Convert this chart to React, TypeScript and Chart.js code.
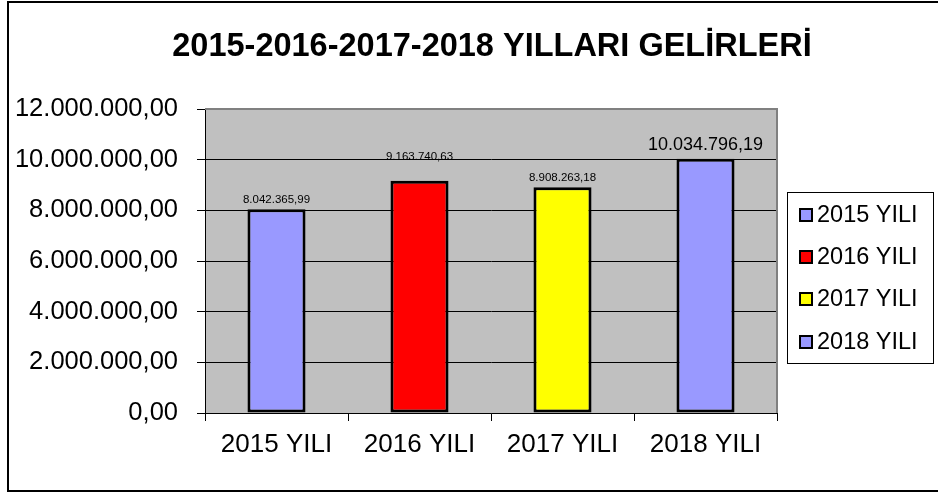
import React, { useEffect, useRef } from "react";
import { Chart, registerables } from "chart.js";

Chart.register(...registerables);

const TITLE = "2015-2016-2017-2018 YILLARI GELİRLERİ";
const categories = ["2015 YILI", "2016 YILI", "2017 YILI", "2018 YILI"];
const revenues = [8042365.99, 9163740.63, 8908263.18, 10034796.19];
const barColors = ["#9999FF", "#FF0000", "#FFFF00", "#9999FF"];
const yMin = 0;
const yMax = 12000000;
const yStep = 2000000;

const FONT = "'Liberation Sans', Arial, sans-serif";

function formatTR(v: number): string {
  const neg = v < 0;
  const fixed = Math.abs(v).toFixed(2);
  const [intPart, dec] = fixed.split(".");
  const grouped = intPart.replace(/\B(?=(\d{3})+(?!\d))/g, ".");
  return (neg ? "-" : "") + grouped + "," + dec;
}

// label styling per bar (font size, gap above bar top)
const labelStyle = [
  { size: 11.5, gap: 9 },
  { size: 11.5, gap: 24 },
  { size: 11.5, gap: 9.5 },
  { size: 18, gap: 14 },
];

const decorPlugin = {
  id: "decor",
  beforeDraw(chart: any) {
    const { ctx, chartArea } = chart;
    const { left, top, right, bottom } = chartArea;
    ctx.save();
    ctx.fillStyle = "#ffffff";
    ctx.fillRect(0, 0, chart.width, chart.height);
    ctx.fillStyle = "#C0C0C0";
    ctx.fillRect(left, top, right - left, bottom - top);
    ctx.restore();
  },
  afterDatasetsDraw(chart: any) {
    const { ctx } = chart;
    const meta = chart.getDatasetMeta(0);
    const data = chart.data.datasets[0].data as number[];
    ctx.save();
    ctx.fillStyle = "#000";
    ctx.textAlign = "center";
    ctx.textBaseline = "middle";
    meta.data.forEach((el: any, i: number) => {
      const st = labelStyle[i] || labelStyle[0];
      ctx.font = `${st.size}px ${FONT}`;
      ctx.fillText(formatTR(data[i]), el.x, el.y - st.gap);
    });
    ctx.restore();
  },
  afterDraw(chart: any) {
    const { ctx, chartArea } = chart;
    const { left, top, right, bottom } = chartArea;
    ctx.save();
    // plot area border (top/right)
    ctx.strokeStyle = "#808080";
    ctx.lineWidth = 2;
    ctx.beginPath();
    ctx.moveTo(left, top);
    ctx.lineTo(right, top);
    ctx.lineTo(right, bottom);
    ctx.stroke();

    // outer chart border
    ctx.strokeStyle = "#000";
    ctx.lineWidth = 2;
    ctx.strokeRect(8, 2, chart.width + 10, 489);

    // title
    ctx.fillStyle = "#000";
    ctx.font = `bold 32.5px ${FONT}`;
    ctx.textAlign = "center";
    ctx.textBaseline = "alphabetic";
    ctx.fillText(TITLE, 492, 56);

    // legend
    const lx = 787.5, ly = 192.5, lw = 146, lh = 171;
    ctx.fillStyle = "#fff";
    ctx.fillRect(lx, ly, lw, lh);
    ctx.strokeStyle = "#000";
    ctx.lineWidth = 1;
    ctx.strokeRect(lx, ly, lw, lh);
    const labels = chart.data.labels as string[];
    const colors = chart.data.datasets[0].backgroundColor as string[];
    const rowY = [215, 257, 299, 342];
    ctx.font = `23.5px ${FONT}`;
    ctx.textAlign = "left";
    ctx.textBaseline = "middle";
    labels.forEach((lab, i) => {
      const cy = rowY[i];
      ctx.fillStyle = colors[i];
      ctx.fillRect(800, cy - 6, 12, 12);
      ctx.strokeStyle = "#000";
      ctx.lineWidth = 2;
      ctx.strokeRect(800, cy - 6, 12, 12);
      ctx.fillStyle = "#000";
      ctx.fillText(lab, 817, cy + 1);
    });
    ctx.restore();
  },
};

export default function App() {
  const ref = useRef<HTMLCanvasElement | null>(null);
  useEffect(() => {
    document.body.style.margin = "0";
    const canvas = ref.current;
    if (!canvas) return;
    const chart = new Chart(canvas, {
      type: "bar",
      data: {
        labels: categories,
        datasets: [
          {
            data: revenues,
            backgroundColor: barColors,
            borderColor: "#000",
            borderWidth: 3,
            borderSkipped: false,
            barPercentage: 0.406,
            categoryPercentage: 1,
          },
        ],
      },
      options: {
        responsive: false,
        animation: false,
        devicePixelRatio: 1,
        layout: { padding: { left: 0, top: 109, right: 161, bottom: 0 } },
        plugins: {
          legend: { display: false },
          title: { display: false },
          tooltip: { enabled: false },
        },
        scales: {
          x: {
            afterFit: (s: any) => {
              s.height = 80;
            },
            grid: {
              drawOnChartArea: false,
              drawTicks: true,
              tickLength: 8,
              color: "#000",
              offset: true,
            },
            border: { color: "#000", width: 1 },
            ticks: {
              color: "#000",
              padding: 8,
              font: { family: FONT, size: 26 },
            },
          },
          y: {
            min: yMin,
            max: yMax,
            afterFit: (s: any) => {
              s.width = 205;
            },
            grid: {
              color: "#000",
              drawTicks: true,
              tickLength: 8,
            },
            border: { color: "#000", width: 1 },
            ticks: {
              stepSize: yStep,
              color: "#000",
              padding: 19,
              font: { family: FONT, size: 25.5 },
              callback: (v: any) => formatTR(Number(v)),
            },
          },
        },
      },
      plugins: [decorPlugin],
    });
    return () => chart.destroy();
  }, []);
  return (
    <div style={{ width: 938, height: 493, position: "relative" }}>
      <canvas ref={ref} width={938} height={493} style={{ display: "block" }} />
    </div>
  );
}
